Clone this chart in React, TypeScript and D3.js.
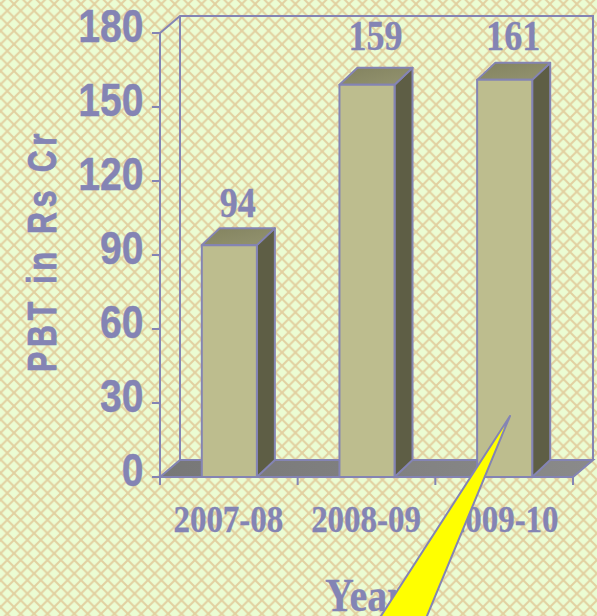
import * as d3 from 'd3';

const WIDTH = 597;
const HEIGHT = 616;

const years = ['2007-08', '2008-09', '2009-10'];
const pbt = [94, 159, 161];
const yTicks = [0, 30, 60, 90, 120, 150, 180];

const LEFT = 160;
const RIGHT = 573;
const BOTTOM = 477;
const TOP = 33;
// 3D offsets of the chart box and of the bars
const WALL = { dx: 20, dy: -17 };
const BAR = { dx: 18, dy: -17 };
// label baseline above the front top edge of the bar
const labelLift = [28, 35, 30];

const INK = '#8484b4';
const SANS = '"Liberation Sans", Arial, sans-serif';
const SERIF = '"Liberation Serif", "Times New Roman", serif';

const yScale = d3.scaleLinear().domain([0, 180]).range([BOTTOM, TOP]);
const xScale = d3
  .scaleBand<string>()
  .domain(years)
  .range([LEFT + 0.5, RIGHT + 0.5])
  .paddingInner(0.6)
  .paddingOuter(0.3);

const poly = (pts: [number, number][]) => d3.line()(pts) + 'Z';

export default function App() {
  const step = xScale.step();
  const barW = xScale.bandwidth();
  const xTicks = d3.range(years.length + 1).map((i) => LEFT + i * step);

  return (
    <svg
      width={WIDTH}
      height={HEIGHT}
      style={{ position: 'absolute', left: 0, top: 0 }}
    >
      <defs>
        <pattern
          id="lattice"
          width={13.4}
          height={13.4}
          patternUnits="userSpaceOnUse"
          patternTransform="translate(0.6 4)"
        >
          <rect width={13.4} height={13.4} fill="#ebfcd3" />
          <path
            d="M-1,-1L14.4,14.4M-1,14.4L14.4,-1"
            stroke="#e2d0a0"
            strokeWidth={2}
            fill="none"
          />
        </pattern>
        <linearGradient id="floor" x1="0" x2="1" y1="0" y2="0">
          <stop offset="0" stopColor="#777777" />
          <stop offset="1" stopColor="#8a8a8a" />
        </linearGradient>
        <linearGradient id="barTop" x1="0" x2="1" y1="0" y2="1">
          <stop offset="0" stopColor="#83835f" />
          <stop offset="1" stopColor="#939370" />
        </linearGradient>
      </defs>
      <rect width={WIDTH} height={HEIGHT} fill="url(#lattice)" />

      {/* back walls and floor */}
      <path
        d={poly([
          [LEFT, BOTTOM],
          [LEFT + WALL.dx, BOTTOM + WALL.dy],
          [RIGHT + WALL.dx, BOTTOM + WALL.dy],
          [RIGHT, BOTTOM],
        ])}
        fill="url(#floor)"
        stroke={INK}
        strokeWidth={2}
      />
      <path
        d={`M${LEFT},${TOP}L${LEFT + WALL.dx},${TOP + WALL.dy}H${RIGHT + WALL.dx}V${BOTTOM + WALL.dy}M${LEFT + WALL.dx},${TOP + WALL.dy}V${BOTTOM + WALL.dy}`}
        fill="none"
        stroke={INK}
        strokeWidth={2}
      />

      {/* bars */}
      {years.map((year, i) => {
        const x0 = xScale(year)!;
        const x1 = x0 + barW;
        const y0 = yScale(pbt[i]);
        return (
          <g key={year} stroke={INK} strokeWidth={2} strokeLinejoin="round">
            <path
              d={poly([
                [x1, y0],
                [x1 + BAR.dx, y0 + BAR.dy],
                [x1 + BAR.dx, BOTTOM + BAR.dy],
                [x1, BOTTOM],
              ])}
              fill="#5e5e45"
            />
            <path
              d={poly([
                [x0, y0],
                [x0 + BAR.dx, y0 + BAR.dy],
                [x1 + BAR.dx, y0 + BAR.dy],
                [x1, y0],
              ])}
              fill="url(#barTop)"
            />
            <rect x={x0} y={y0} width={barW} height={BOTTOM - y0} fill="#bdbd8e" />
          </g>
        );
      })}

      {/* axes */}
      <g stroke={INK} strokeWidth={2} fill="none">
        <path d={`M${LEFT},${TOP}V${BOTTOM + 8}`} />
        <path d={`M${LEFT - 8},${BOTTOM}H${RIGHT}`} />
        {yTicks.map((t) => (
          <line key={t} x1={LEFT - 8} x2={LEFT} y1={yScale(t)} y2={yScale(t)} />
        ))}
        {xTicks.map((x) => (
          <line key={x} x1={x} x2={x} y1={BOTTOM} y2={BOTTOM + 8} />
        ))}
      </g>

      {yTicks.map((t) => (
        <text
          key={t}
          transform={`translate(143.5,${yScale(t) + 9}) scale(0.85,1)`}
          textAnchor="end"
          fontFamily={SANS}
          fontWeight="bold"
          fontSize={46}
          fill={INK}
          stroke={INK}
          strokeWidth={0.4}
        >
          {t}
        </text>
      ))}

      <text
        transform="translate(56,372) rotate(-90) scale(0.74,1)"
        fontFamily={SANS}
        fontWeight="bold"
        fontSize={41}
        letterSpacing={6.5}
        fill={INK}
        stroke={INK}
        strokeWidth={0.8}
      >
        PBT in Rs Cr
      </text>

      {years.map((year) => (
        <text
          key={year}
          transform={`translate(${xScale(year)! + barW / 2 - 1},${BOTTOM + 55}) scale(0.89,1)`}
          textAnchor="middle"
          fontFamily={SERIF}
          fontWeight="bold"
          fontSize={37}
          fill={INK}
          stroke={INK}
          strokeWidth={0.3}
        >
          {year}
        </text>
      ))}

      {pbt.map((v, i) => (
        <text
          key={years[i]}
          transform={`translate(${xScale(years[i])! + barW / 2 + 8.5},${yScale(v) - labelLift[i]}) scale(0.84,1)`}
          textAnchor="middle"
          fontFamily={SERIF}
          fontWeight="bold"
          fontSize={43}
          fill={INK}
          stroke={INK}
          strokeWidth={0.3}
        >
          {v}
        </text>
      ))}

      <text
        transform="translate(325,611) scale(0.85,1)"
        fontFamily={SERIF}
        fontWeight="bold"
        fontSize={47}
        fill={INK}
        stroke={INK}
        strokeWidth={0.3}
      >
        Year
      </text>

      {/* yellow callout pointer from the slide */}
      <path d="M510,416L365.5,640H417Z" fill="#ffff00" stroke={INK} strokeWidth={2} strokeLinejoin="round" />
    </svg>
  );
}
